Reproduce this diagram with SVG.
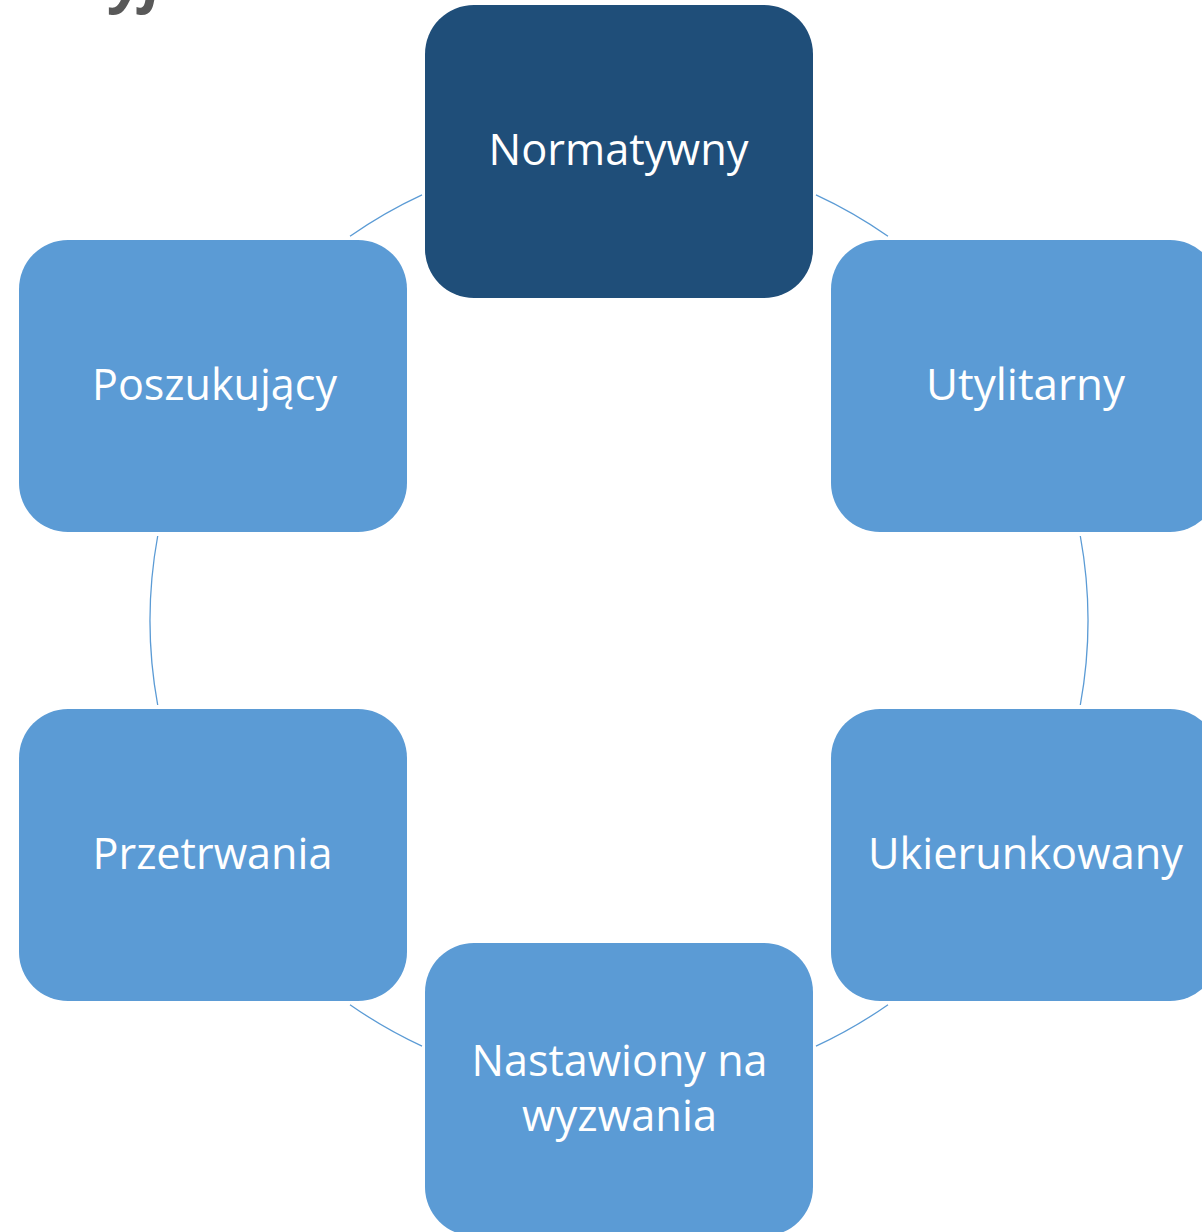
<svg xmlns="http://www.w3.org/2000/svg" width="1202" height="1232" viewBox="0 0 1202 1232">
  <style>
    .box { fill: #5B9BD5; }
    .box.dark { fill: #1F4E79; }
    .lbl { fill: #FFFFFF; font-family: "Open Sans", "Liberation Sans", sans-serif; font-size: 43px; text-anchor: middle; }
    .arc { fill: none; stroke: #5B9BD5; stroke-width: 1.3; }
    .title { fill: #595959; font-family: "Open Sans", "Liberation Sans", sans-serif; font-size: 60px; font-weight: bold; font-style: italic; }
  </style>
  <rect width="1202" height="1232" fill="#FFFFFF"/>
  <text class="title" x="113" y="0">yj</text>
  <g id="connectors">
    <path class="arc" d="M816,194.9 A469,469 0 0 1 888,236.3"/>
    <path class="arc" d="M1080.3,536 A469,469 0 0 1 1080.3,705"/>
    <path class="arc" d="M888,1004.7 A469,469 0 0 1 816,1046.1"/>
    <path class="arc" d="M422,1046.1 A469,469 0 0 1 350,1004.7"/>
    <path class="arc" d="M157.7,705 A469,469 0 0 1 157.7,536"/>
    <path class="arc" d="M350,236.3 A469,469 0 0 1 422,194.9"/>
  </g>
  <g id="node-normatywny">
    <rect class="box dark" x="425" y="5" width="388" height="293" rx="49" ry="49"/>
    <text class="lbl" x="618.5" y="165" textLength="260" lengthAdjust="spacingAndGlyphs">Normatywny</text>
  </g>
  <g id="node-utylitarny">
    <rect class="box" x="831" y="240" width="388" height="292" rx="49" ry="49"/>
    <text class="lbl" x="1025.5" y="400" textLength="199" lengthAdjust="spacingAndGlyphs">Utylitarny</text>
  </g>
  <g id="node-ukierunkowany">
    <rect class="box" x="831" y="709" width="388" height="292" rx="49" ry="49"/>
    <text class="lbl" x="1025.5" y="868.5" textLength="315" lengthAdjust="spacingAndGlyphs">Ukierunkowany</text>
  </g>
  <g id="node-nastawiony">
    <rect class="box" x="425" y="943" width="388" height="293" rx="49" ry="49"/>
    <text class="lbl" x="619.5" y="1076" textLength="296" lengthAdjust="spacingAndGlyphs">Nastawiony na</text>
    <text class="lbl" x="619.5" y="1131" textLength="195" lengthAdjust="spacingAndGlyphs">wyzwania</text>
  </g>
  <g id="node-przetrwania">
    <rect class="box" x="19" y="709" width="388" height="292" rx="49" ry="49"/>
    <text class="lbl" x="212.5" y="868.5" textLength="240" lengthAdjust="spacingAndGlyphs">Przetrwania</text>
  </g>
  <g id="node-poszukujacy">
    <rect class="box" x="19" y="240" width="388" height="292" rx="49" ry="49"/>
    <text class="lbl" x="214.5" y="399.5" textLength="245" lengthAdjust="spacingAndGlyphs">Poszukujący</text>
  </g>
</svg>
